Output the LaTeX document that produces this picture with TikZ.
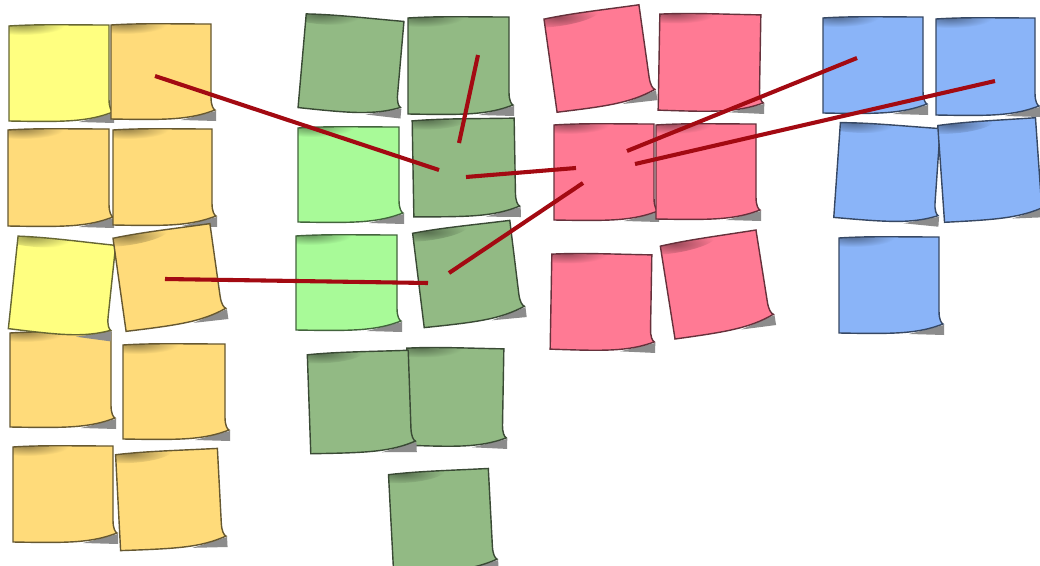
\documentclass[tikz,border=0pt]{standalone}
\usepackage{tikz}
\usetikzlibrary{calc}

\definecolor{noteyellow}{HTML}{FFFF80}
\definecolor{noteorange}{HTML}{FFDB7A}
\definecolor{notegreen}{HTML}{92BA84}
\definecolor{notelime}{HTML}{A8FA98}
\definecolor{notepink}{HTML}{FF7A94}
\definecolor{noteblue}{HTML}{8AB4F8}
\definecolor{pinred}{HTML}{A30A12}

\tikzset{
	notecurl/.style={fill=black!45},
	noteedge/.style={draw=#1!40!black, line width=1pt},
	pinline/.style={draw=pinred, line width=2.9pt}
}

% outline of one sticky note, w = #1, h = #2 (y runs downwards)
\newcommand{\notepath}[2]{(0,1) .. controls ({#1*0.3},-1) and ({#1*0.6},0) .. (#1,0)
	-- (#1,{#2-22}) .. controls (#1,{#2-14}) and ({#1+2},{#2-10}) .. ({#1+4},{#2-9})
	.. controls ({#1-22},{#2+1}) and ({#1-45},{#2+1}) .. (0,#2) -- cycle}

% sticky note: name, x, y, width, height, angle, colour
\newcommand{\stickynote}[7]{%
	\begin{scope}[shift={(#2,#3)}, rotate around={#6:({#4/2},{#5/2})}]
		\fill[notecurl] ({#4-30},{#5+1}) -- ({#4+5},{#5-8}) -- ({#4+5},{#5+2}) -- cycle;
		\fill[#7] \notepath{#4}{#5};
		\begin{scope}
			\clip \notepath{#4}{#5};
			\shade[inner color=#7!60!black, outer color=#7] (14,0) ellipse (42 and 10);
		\end{scope}
		\draw[noteedge=#7] \notepath{#4}{#5};
		\coordinate (#1) at ({#4/2},{#5/2});
	\end{scope}}

\begin{document}
\begin{tikzpicture}[x=0.025cm,y=-0.025cm]

	\fill[white] (0,0) rectangle (1040,566);
	\useasboundingbox (0,0) rectangle (1040,566);

	% Draw the yellow notes
	\stickynote{y1}{9}{25}{100}{96}{0}{noteyellow}
	\stickynote{y2}{111}{24}{100}{95}{0}{noteorange}
	\stickynote{y3}{8}{129}{101}{97}{0}{noteorange}
	\stickynote{y4}{113}{129}{99}{96}{0}{noteorange}
	\stickynote{y7}{10}{332}{101}{95}{0}{noteorange}
	\stickynote{y5}{13}{240}{98}{94}{-6}{noteyellow}
	\stickynote{y6}{119}{230}{98}{95}{8}{noteorange}
	\stickynote{y8}{123}{344}{102}{95}{0}{noteorange}
	\stickynote{y9}{13}{446}{100}{96}{0}{noteorange}
	\stickynote{y10}{118}{451}{102}{97}{3}{noteorange}

	% Draw the green notes
	\stickynote{g1}{302}{17}{98}{95}{-5}{notegreen}
	\stickynote{g2}{408}{17}{101}{97}{0}{notegreen}
	\stickynote{g3}{298}{127}{101}{95}{0}{notelime}
	\stickynote{g4}{413}{119}{102}{97}{1}{notegreen}
	\stickynote{g5}{296}{235}{101}{95}{0}{notelime}
	\stickynote{g6}{418}{226}{98}{96}{7}{notegreen}
	\stickynote{g8}{406}{348}{97}{98}{-1}{notegreen}
	\stickynote{g7}{309}{352}{101}{100}{2}{notegreen}
	\stickynote{g9}{391}{471}{100}{100}{3}{notegreen}

	% Draw the pink notes
	\stickynote{p1}{550}{11}{96}{95}{8}{notepink}
	\stickynote{p2}{659}{14}{101}{97}{-1}{notepink}
	\stickynote{p3}{554}{124}{100}{96}{0}{notepink}
	\stickynote{p4}{656}{124}{100}{95}{0}{notepink}
	\stickynote{p5}{551}{254}{100}{96}{-1}{notepink}
	\stickynote{p6}{667}{237}{97}{95}{9}{notepink}

	% Draw the blue notes
	\stickynote{b1}{823}{17}{100}{96}{0}{noteblue}
	\stickynote{b2}{936}{18}{99}{97}{0}{noteblue}
	\stickynote{b3}{837}{125}{100}{96}{-4}{noteblue}
	\stickynote{b4}{941}{121}{98}{98}{4}{noteblue}
	\stickynote{b5}{839}{237}{100}{96}{0}{noteblue}

	% Pin points for the red strings
	\coordinate (y2pin) at (155,76);
	\coordinate (y6pin) at (165,279);
	\coordinate (g2pin) at (478,55);
	\coordinate (g4pinA) at (439,170);
	\coordinate (g4pinB) at (459,143);
	\coordinate (g4pinC) at (466,177);
	\coordinate (g6pinA) at (428,283);
	\coordinate (g6pinB) at (449,273);
	\coordinate (p3pinA) at (576,168);
	\coordinate (p3pinB) at (583,183);
	\coordinate (p3pinC) at (627,151);
	\coordinate (p3pinD) at (635,164);
	\coordinate (b1pin) at (857,58);
	\coordinate (b2pin) at (995,81);

	% Draw the red strings
	\draw[pinline] (y2pin) -- (g4pinA);
	\draw[pinline] (g2pin) -- (g4pinB);
	\draw[pinline] (g4pinC) -- (p3pinA);
	\draw[pinline] (y6pin) -- (g6pinA);
	\draw[pinline] (g6pinB) -- (p3pinB);
	\draw[pinline] (p3pinC) -- (b1pin);
	\draw[pinline] (p3pinD) -- (b2pin);

\end{tikzpicture}
\end{document}
